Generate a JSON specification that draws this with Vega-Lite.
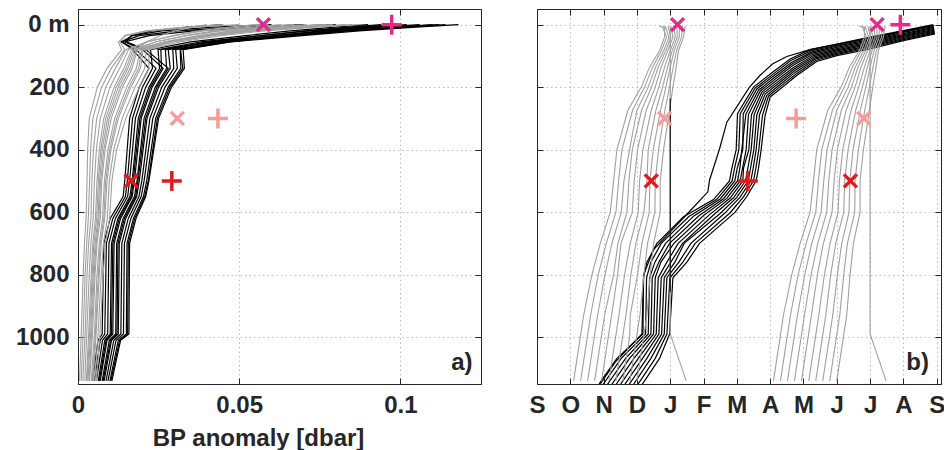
{
"$schema":"https://vega.github.io/schema/vega-lite/v6.json",
"background":"white",
"padding":{"left":15,"top":7,"right":0,"bottom":0},
"config":{
 "view":{"stroke":"#262626","strokeWidth":1},
 "axis":{"labelFont":"Liberation Sans","labelFontWeight":"bold","labelFontSize":24,"labelColor":"#262626",
  "titleFont":"Liberation Sans","titleFontWeight":"bold","titleFontSize":24,"titleColor":"#262626",
  "tickSize":-6,"tickColor":"#262626","tickWidth":1,"domainColor":"#262626","domainWidth":1,
  "gridColor":"#bdbdbd","gridDash":[1.5,3],"gridWidth":1,
  "labelPadding":15,"labelOverlap":false,"labelFlush":false,"labelBound":false},
 "text":{"font":"Liberation Sans","fontWeight":"bold","fontSize":24,"color":"#262626"}
},
"datasets":{
"pa_k":[
{"i":"k1","d":0,"v":0.118},{"i":"k1","d":8,"v":0.1048},{"i":"k1","d":20,"v":0.0872},{"i":"k1","d":35,"v":0.0695},{"i":"k1","d":55,"v":0.0475},{"i":"k1","d":80,"v":0.0317},{"i":"k1","d":140,"v":0.0319},{"i":"k1","d":200,"v":0.028},{"i":"k1","d":300,"v":0.0241},{"i":"k1","d":500,"v":0.0213},{"i":"k1","d":550,"v":0.0203},{"i":"k1","d":620,"v":0.0172},{"i":"k1","d":700,"v":0.0152},{"i":"k1","d":990,"v":0.015},{"i":"k1","d":1010,"v":0.0125},{"i":"k1","d":1140,"v":0.0099},
{"i":"k2","d":0,"v":0.114},{"i":"k2","d":8,"v":0.1011},{"i":"k2","d":20,"v":0.0838},{"i":"k2","d":35,"v":0.0665},{"i":"k2","d":55,"v":0.045},{"i":"k2","d":80,"v":0.0294},{"i":"k2","d":140,"v":0.0297},{"i":"k2","d":200,"v":0.026},{"i":"k2","d":300,"v":0.0223},{"i":"k2","d":500,"v":0.0198},{"i":"k2","d":550,"v":0.0189},{"i":"k2","d":620,"v":0.0156},{"i":"k2","d":700,"v":0.0136},{"i":"k2","d":990,"v":0.0133},{"i":"k2","d":1010,"v":0.0111},{"i":"k2","d":1140,"v":0.0087},
{"i":"k3","d":0,"v":0.11},{"i":"k3","d":8,"v":0.0982},{"i":"k3","d":20,"v":0.0824},{"i":"k3","d":35,"v":0.0666},{"i":"k3","d":55,"v":0.0468},{"i":"k3","d":80,"v":0.0326},{"i":"k3","d":140,"v":0.033},{"i":"k3","d":200,"v":0.029},{"i":"k3","d":300,"v":0.025},{"i":"k3","d":500,"v":0.022},{"i":"k3","d":550,"v":0.021},{"i":"k3","d":620,"v":0.018},{"i":"k3","d":700,"v":0.016},{"i":"k3","d":990,"v":0.0158},{"i":"k3","d":1010,"v":0.0132},{"i":"k3","d":1140,"v":0.0105},
{"i":"k4","d":0,"v":0.106},{"i":"k4","d":8,"v":0.0939},{"i":"k4","d":20,"v":0.0778},{"i":"k4","d":35,"v":0.0617},{"i":"k4","d":55,"v":0.0416},{"i":"k4","d":80,"v":0.0271},{"i":"k4","d":140,"v":0.0275},{"i":"k4","d":200,"v":0.024},{"i":"k4","d":300,"v":0.0205},{"i":"k4","d":500,"v":0.0183},{"i":"k4","d":550,"v":0.0175},{"i":"k4","d":620,"v":0.014},{"i":"k4","d":700,"v":0.012},{"i":"k4","d":990,"v":0.0117},{"i":"k4","d":1010,"v":0.0097},{"i":"k4","d":1140,"v":0.0075},
{"i":"k5","d":0,"v":0.102},{"i":"k5","d":8,"v":0.091},{"i":"k5","d":20,"v":0.0764},{"i":"k5","d":35,"v":0.0617},{"i":"k5","d":55,"v":0.0434},{"i":"k5","d":80,"v":0.0303},{"i":"k5","d":140,"v":0.0308},{"i":"k5","d":200,"v":0.027},{"i":"k5","d":300,"v":0.0232},{"i":"k5","d":500,"v":0.0205},{"i":"k5","d":550,"v":0.0196},{"i":"k5","d":620,"v":0.0164},{"i":"k5","d":700,"v":0.0144},{"i":"k5","d":990,"v":0.0141},{"i":"k5","d":1010,"v":0.0118},{"i":"k5","d":1140,"v":0.0093},
{"i":"k6","d":0,"v":0.098},{"i":"k6","d":8,"v":0.0868},{"i":"k6","d":20,"v":0.0719},{"i":"k6","d":35,"v":0.0569},{"i":"k6","d":55,"v":0.0382},{"i":"k6","d":80,"v":0.0248},{"i":"k6","d":140,"v":0.0253},{"i":"k6","d":200,"v":0.022},{"i":"k6","d":300,"v":0.0187},{"i":"k6","d":500,"v":0.0168},{"i":"k6","d":550,"v":0.0161},{"i":"k6","d":620,"v":0.0124},{"i":"k6","d":700,"v":0.0104},{"i":"k6","d":990,"v":0.01},{"i":"k6","d":1010,"v":0.0083},{"i":"k6","d":1140,"v":0.0063},
{"i":"k7","d":0,"v":0.094},{"i":"k7","d":8,"v":0.0839},{"i":"k7","d":20,"v":0.0704},{"i":"k7","d":35,"v":0.0569},{"i":"k7","d":55,"v":0.0401},{"i":"k7","d":80,"v":0.028},{"i":"k7","d":140,"v":0.0286},{"i":"k7","d":200,"v":0.025},{"i":"k7","d":300,"v":0.0214},{"i":"k7","d":500,"v":0.019},{"i":"k7","d":550,"v":0.0182},{"i":"k7","d":620,"v":0.0148},{"i":"k7","d":700,"v":0.0128},{"i":"k7","d":990,"v":0.0125},{"i":"k7","d":1010,"v":0.0104},{"i":"k7","d":1140,"v":0.0081},
{"i":"k8","d":0,"v":0.09},{"i":"k8","d":8,"v":0.0797},{"i":"k8","d":20,"v":0.0659},{"i":"k8","d":35,"v":0.0521},{"i":"k8","d":55,"v":0.0349},{"i":"k8","d":80,"v":0.0225},{"i":"k8","d":140,"v":0.0231},{"i":"k8","d":200,"v":0.02},{"i":"k8","d":300,"v":0.0169},{"i":"k8","d":500,"v":0.0153},{"i":"k8","d":550,"v":0.0147},{"i":"k8","d":620,"v":0.0108},{"i":"k8","d":700,"v":0.0088},{"i":"k8","d":990,"v":0.0083},{"i":"k8","d":1010,"v":0.0069},{"i":"k8","d":1140,"v":0.0051},
{"i":"k9","d":0,"v":0.08},{"i":"k9","d":8,"v":0.058},{"i":"k9","d":20,"v":0.036},{"i":"k9","d":35,"v":0.022},{"i":"k9","d":55,"v":0.0145},{"i":"k9","d":80,"v":0.02},{"i":"k9","d":140,"v":0.0264},{"i":"k9","d":200,"v":0.023},{"i":"k9","d":300,"v":0.0196},{"i":"k9","d":500,"v":0.0175},{"i":"k9","d":550,"v":0.0168},{"i":"k9","d":620,"v":0.0132},{"i":"k9","d":700,"v":0.0112},{"i":"k9","d":990,"v":0.0108},{"i":"k9","d":1010,"v":0.009},{"i":"k9","d":1140,"v":0.0069},
{"i":"k10","d":0,"v":0.07},{"i":"k10","d":8,"v":0.05},{"i":"k10","d":20,"v":0.031},{"i":"k10","d":35,"v":0.019},{"i":"k10","d":55,"v":0.0135},{"i":"k10","d":80,"v":0.018},{"i":"k10","d":140,"v":0.0242},{"i":"k10","d":200,"v":0.021},{"i":"k10","d":300,"v":0.0178},{"i":"k10","d":500,"v":0.016},{"i":"k10","d":550,"v":0.0154},{"i":"k10","d":620,"v":0.0116},{"i":"k10","d":700,"v":0.0096},{"i":"k10","d":990,"v":0.0092},{"i":"k10","d":1010,"v":0.0076},{"i":"k10","d":1140,"v":0.0057},
{"i":"k11","d":0,"v":0.06},{"i":"k11","d":8,"v":0.042},{"i":"k11","d":20,"v":0.026},{"i":"k11","d":35,"v":0.017},{"i":"k11","d":55,"v":0.0135},{"i":"k11","d":80,"v":0.017},{"i":"k11","d":140,"v":0.022},{"i":"k11","d":200,"v":0.019},{"i":"k11","d":300,"v":0.016},{"i":"k11","d":500,"v":0.0145},{"i":"k11","d":550,"v":0.014},{"i":"k11","d":620,"v":0.01},{"i":"k11","d":700,"v":0.008},{"i":"k11","d":990,"v":0.0075},{"i":"k11","d":1010,"v":0.0062},{"i":"k11","d":1140,"v":0.0045},
{"i":"k12","d":0,"v":0.045},{"i":"k12","d":8,"v":0.034},{"i":"k12","d":20,"v":0.023},{"i":"k12","d":35,"v":0.0165},{"i":"k12","d":55,"v":0.015},{"i":"k12","d":80,"v":0.021},{"i":"k12","d":140,"v":0.028},{"i":"k12","d":200,"v":0.0245},{"i":"k12","d":300,"v":0.021},{"i":"k12","d":500,"v":0.0186},{"i":"k12","d":550,"v":0.0179},{"i":"k12","d":620,"v":0.0144},{"i":"k12","d":700,"v":0.0124},{"i":"k12","d":990,"v":0.0121},{"i":"k12","d":1010,"v":0.0101},{"i":"k12","d":1140,"v":0.0078},
{"i":"k13","d":0,"v":0.112},{"i":"k13","d":8,"v":0.0988},{"i":"k13","d":20,"v":0.0812},{"i":"k13","d":35,"v":0.0635},{"i":"k13","d":55,"v":0.0415},{"i":"k13","d":80,"v":0.0257},{"i":"k13","d":140,"v":0.0259},{"i":"k13","d":200,"v":0.0225},{"i":"k13","d":300,"v":0.0192},{"i":"k13","d":500,"v":0.0171},{"i":"k13","d":550,"v":0.0165},{"i":"k13","d":620,"v":0.0128},{"i":"k13","d":700,"v":0.0108},{"i":"k13","d":990,"v":0.0104},{"i":"k13","d":1010,"v":0.0087},{"i":"k13","d":1140,"v":0.0066},
{"i":"k14","d":0,"v":0.1},{"i":"k14","d":8,"v":0.0896},{"i":"k14","d":20,"v":0.0757},{"i":"k14","d":35,"v":0.0617},{"i":"k14","d":55,"v":0.0444},{"i":"k14","d":80,"v":0.0318},{"i":"k14","d":140,"v":0.0325},{"i":"k14","d":200,"v":0.0285},{"i":"k14","d":300,"v":0.0246},{"i":"k14","d":500,"v":0.0218},{"i":"k14","d":550,"v":0.0207},{"i":"k14","d":620,"v":0.0176},{"i":"k14","d":700,"v":0.0156},{"i":"k14","d":990,"v":0.0154},{"i":"k14","d":1010,"v":0.0129},{"i":"k14","d":1140,"v":0.0102}
],
"pa_g":[
{"i":"g1","d":0,"v":0.087},{"i":"g1","d":8,"v":0.074},{"i":"g1","d":20,"v":0.0578},{"i":"g1","d":35,"v":0.0448},{"i":"g1","d":55,"v":0.0318},{"i":"g1","d":80,"v":0.022},{"i":"g1","d":140,"v":0.022},{"i":"g1","d":200,"v":0.019},{"i":"g1","d":300,"v":0.0148},{"i":"g1","d":400,"v":0.012},{"i":"g1","d":500,"v":0.0105},{"i":"g1","d":620,"v":0.0098},{"i":"g1","d":700,"v":0.0085},{"i":"g1","d":800,"v":0.0078},{"i":"g1","d":990,"v":0.0068},{"i":"g1","d":1140,"v":0.0057},
{"i":"g2","d":0,"v":0.083},{"i":"g2","d":8,"v":0.0704},{"i":"g2","d":20,"v":0.0547},{"i":"g2","d":35,"v":0.0422},{"i":"g2","d":55,"v":0.0296},{"i":"g2","d":80,"v":0.0202},{"i":"g2","d":140,"v":0.0194},{"i":"g2","d":200,"v":0.0164},{"i":"g2","d":300,"v":0.0125},{"i":"g2","d":400,"v":0.0102},{"i":"g2","d":500,"v":0.009},{"i":"g2","d":620,"v":0.0083},{"i":"g2","d":700,"v":0.0072},{"i":"g2","d":800,"v":0.0066},{"i":"g2","d":990,"v":0.0056},{"i":"g2","d":1140,"v":0.0047},
{"i":"g3","d":0,"v":0.079},{"i":"g3","d":8,"v":0.0674},{"i":"g3","d":20,"v":0.0529},{"i":"g3","d":35,"v":0.0414},{"i":"g3","d":55,"v":0.0298},{"i":"g3","d":80,"v":0.0211},{"i":"g3","d":140,"v":0.0207},{"i":"g3","d":200,"v":0.0177},{"i":"g3","d":300,"v":0.0137},{"i":"g3","d":400,"v":0.0111},{"i":"g3","d":500,"v":0.0097},{"i":"g3","d":620,"v":0.0091},{"i":"g3","d":700,"v":0.0079},{"i":"g3","d":800,"v":0.0072},{"i":"g3","d":990,"v":0.0062},{"i":"g3","d":1140,"v":0.0052},
{"i":"g4","d":0,"v":0.075},{"i":"g4","d":8,"v":0.0637},{"i":"g4","d":20,"v":0.0495},{"i":"g4","d":35,"v":0.0382},{"i":"g4","d":55,"v":0.0269},{"i":"g4","d":80,"v":0.0184},{"i":"g4","d":140,"v":0.0168},{"i":"g4","d":200,"v":0.0138},{"i":"g4","d":300,"v":0.0103},{"i":"g4","d":400,"v":0.0084},{"i":"g4","d":500,"v":0.0074},{"i":"g4","d":620,"v":0.0069},{"i":"g4","d":700,"v":0.0059},{"i":"g4","d":800,"v":0.0053},{"i":"g4","d":990,"v":0.0045},{"i":"g4","d":1140,"v":0.0036},
{"i":"g5","d":0,"v":0.071},{"i":"g5","d":8,"v":0.0607},{"i":"g5","d":20,"v":0.0477},{"i":"g5","d":35,"v":0.0374},{"i":"g5","d":55,"v":0.0271},{"i":"g5","d":80,"v":0.0193},{"i":"g5","d":140,"v":0.0181},{"i":"g5","d":200,"v":0.0151},{"i":"g5","d":300,"v":0.0114},{"i":"g5","d":400,"v":0.0093},{"i":"g5","d":500,"v":0.0082},{"i":"g5","d":620,"v":0.0076},{"i":"g5","d":700,"v":0.0066},{"i":"g5","d":800,"v":0.0059},{"i":"g5","d":990,"v":0.0051},{"i":"g5","d":1140,"v":0.0041},
{"i":"g6","d":0,"v":0.067},{"i":"g6","d":8,"v":0.0569},{"i":"g6","d":20,"v":0.0443},{"i":"g6","d":35,"v":0.0342},{"i":"g6","d":55,"v":0.0242},{"i":"g6","d":80,"v":0.0166},{"i":"g6","d":140,"v":0.0142},{"i":"g6","d":200,"v":0.0112},{"i":"g6","d":300,"v":0.008},{"i":"g6","d":400,"v":0.0066},{"i":"g6","d":500,"v":0.0059},{"i":"g6","d":620,"v":0.0054},{"i":"g6","d":700,"v":0.0046},{"i":"g6","d":800,"v":0.0041},{"i":"g6","d":990,"v":0.0033},{"i":"g6","d":1140,"v":0.0026},
{"i":"g7","d":0,"v":0.063},{"i":"g7","d":8,"v":0.0539},{"i":"g7","d":20,"v":0.0425},{"i":"g7","d":35,"v":0.0334},{"i":"g7","d":55,"v":0.0243},{"i":"g7","d":80,"v":0.0175},{"i":"g7","d":140,"v":0.0155},{"i":"g7","d":200,"v":0.0125},{"i":"g7","d":300,"v":0.0092},{"i":"g7","d":400,"v":0.0075},{"i":"g7","d":500,"v":0.0067},{"i":"g7","d":620,"v":0.0062},{"i":"g7","d":700,"v":0.0053},{"i":"g7","d":800,"v":0.0047},{"i":"g7","d":990,"v":0.0039},{"i":"g7","d":1140,"v":0.0031},
{"i":"g8","d":0,"v":0.059},{"i":"g8","d":8,"v":0.0502},{"i":"g8","d":20,"v":0.0391},{"i":"g8","d":35,"v":0.0303},{"i":"g8","d":55,"v":0.0214},{"i":"g8","d":80,"v":0.0148},{"i":"g8","d":140,"v":0.0116},{"i":"g8","d":200,"v":0.0086},{"i":"g8","d":300,"v":0.0058},{"i":"g8","d":400,"v":0.0048},{"i":"g8","d":500,"v":0.0043},{"i":"g8","d":620,"v":0.004},{"i":"g8","d":700,"v":0.0033},{"i":"g8","d":800,"v":0.0028},{"i":"g8","d":990,"v":0.0022},{"i":"g8","d":1140,"v":0.0015},
{"i":"g9","d":0,"v":0.055},{"i":"g9","d":8,"v":0.0471},{"i":"g9","d":20,"v":0.0373},{"i":"g9","d":35,"v":0.0295},{"i":"g9","d":55,"v":0.0216},{"i":"g9","d":80,"v":0.0157},{"i":"g9","d":140,"v":0.0129},{"i":"g9","d":200,"v":0.0099},{"i":"g9","d":300,"v":0.0069},{"i":"g9","d":400,"v":0.0057},{"i":"g9","d":500,"v":0.0051},{"i":"g9","d":620,"v":0.0047},{"i":"g9","d":700,"v":0.004},{"i":"g9","d":800,"v":0.0035},{"i":"g9","d":990,"v":0.0027},{"i":"g9","d":1140,"v":0.0021},
{"i":"g10","d":0,"v":0.05},{"i":"g10","d":8,"v":0.036},{"i":"g10","d":20,"v":0.022},{"i":"g10","d":35,"v":0.015},{"i":"g10","d":55,"v":0.0125},{"i":"g10","d":80,"v":0.0135},{"i":"g10","d":140,"v":0.009},{"i":"g10","d":200,"v":0.006},{"i":"g10","d":300,"v":0.0035},{"i":"g10","d":400,"v":0.003},{"i":"g10","d":500,"v":0.0028},{"i":"g10","d":620,"v":0.0025},{"i":"g10","d":700,"v":0.002},{"i":"g10","d":800,"v":0.0016},{"i":"g10","d":990,"v":0.001},{"i":"g10","d":1140,"v":0.0005},
{"i":"g11","d":0,"v":0.045},{"i":"g11","d":8,"v":0.033},{"i":"g11","d":20,"v":0.021},{"i":"g11","d":35,"v":0.0145},{"i":"g11","d":55,"v":0.013},{"i":"g11","d":80,"v":0.0145},{"i":"g11","d":140,"v":0.0103},{"i":"g11","d":200,"v":0.0073},{"i":"g11","d":300,"v":0.0046},{"i":"g11","d":400,"v":0.0039},{"i":"g11","d":500,"v":0.0036},{"i":"g11","d":620,"v":0.0032},{"i":"g11","d":700,"v":0.0027},{"i":"g11","d":800,"v":0.0022},{"i":"g11","d":990,"v":0.0016},{"i":"g11","d":1140,"v":0.001},
{"i":"g12","d":0,"v":0.04},{"i":"g12","d":8,"v":0.0356},{"i":"g12","d":20,"v":0.0301},{"i":"g12","d":35,"v":0.0257},{"i":"g12","d":55,"v":0.0213},{"i":"g12","d":80,"v":0.018},{"i":"g12","d":140,"v":0.0162},{"i":"g12","d":200,"v":0.0132},{"i":"g12","d":300,"v":0.0097},{"i":"g12","d":400,"v":0.008},{"i":"g12","d":500,"v":0.007},{"i":"g12","d":620,"v":0.0065},{"i":"g12","d":700,"v":0.0056},{"i":"g12","d":800,"v":0.005},{"i":"g12","d":990,"v":0.0042},{"i":"g12","d":1140,"v":0.0034},
{"i":"g13","d":0,"v":0.085},{"i":"g13","d":8,"v":0.0714},{"i":"g13","d":20,"v":0.0544},{"i":"g13","d":35,"v":0.0408},{"i":"g13","d":55,"v":0.0272},{"i":"g13","d":80,"v":0.0171},{"i":"g13","d":140,"v":0.0149},{"i":"g13","d":200,"v":0.0119},{"i":"g13","d":300,"v":0.0086},{"i":"g13","d":400,"v":0.0071},{"i":"g13","d":500,"v":0.0063},{"i":"g13","d":620,"v":0.0058},{"i":"g13","d":700,"v":0.0049},{"i":"g13","d":800,"v":0.0044},{"i":"g13","d":990,"v":0.0036},{"i":"g13","d":1140,"v":0.0028},
{"i":"g14","d":0,"v":0.077},{"i":"g14","d":8,"v":0.0656},{"i":"g14","d":20,"v":0.0512},{"i":"g14","d":35,"v":0.0398},{"i":"g14","d":55,"v":0.0284},{"i":"g14","d":80,"v":0.0198},{"i":"g14","d":140,"v":0.0188},{"i":"g14","d":200,"v":0.0158},{"i":"g14","d":300,"v":0.012},{"i":"g14","d":400,"v":0.0098},{"i":"g14","d":500,"v":0.0086},{"i":"g14","d":620,"v":0.008},{"i":"g14","d":700,"v":0.0069},{"i":"g14","d":800,"v":0.0063},{"i":"g14","d":990,"v":0.0054},{"i":"g14","d":1140,"v":0.0044}
],
"ma":[
{"v":0.0575,"d":0,"s":"x","c":"top"},{"v":0.0973,"d":0,"s":"+","c":"top"},
{"v":0.0308,"d":300,"s":"x","c":"mid"},{"v":0.0434,"d":300,"s":"+","c":"mid"},
{"v":0.0165,"d":500,"s":"x","c":"deep"},{"v":0.0291,"d":500,"s":"+","c":"deep"}
],
"pb_k":[
{"i":"b0","d":0,"m":11.9},{"i":"b0","d":19,"m":11.0},{"i":"b0","d":40,"m":10.0},{"i":"b0","d":62,"m":9.0},{"i":"b0","d":80,"m":8.2},{"i":"b0","d":110,"m":7.6},{"i":"b0","d":150,"m":7.1},{"i":"b0","d":200,"m":6.5},{"i":"b0","d":285,"m":6.02},{"i":"b0","d":400,"m":5.98},{"i":"b0","d":460,"m":5.85},{"i":"b0","d":500,"m":5.78},{"i":"b0","d":560,"m":5.3},{"i":"b0","d":615,"m":4.4},{"i":"b0","d":700,"m":3.6},{"i":"b0","d":760,"m":3.3},{"i":"b0","d":810,"m":3.2},{"i":"b0","d":990,"m":3.18},{"i":"b0","d":1068,"m":2.4},{"i":"b0","d":1132,"m":1.98},{"i":"b0","d":1160,"m":1.8},
{"i":"b1","d":3,"m":11.91},{"i":"b1","d":22,"m":11.0},{"i":"b1","d":44,"m":10.0},{"i":"b1","d":66,"m":9.0},{"i":"b1","d":84,"m":8.22},{"i":"b1","d":115,"m":7.62},{"i":"b1","d":156,"m":7.12},{"i":"b1","d":203,"m":6.55},{"i":"b1","d":286,"m":6.1},{"i":"b1","d":400,"m":6.06},{"i":"b1","d":460,"m":5.93},{"i":"b1","d":500,"m":5.86},{"i":"b1","d":559,"m":5.4},{"i":"b1","d":614,"m":4.56},{"i":"b1","d":700,"m":3.73},{"i":"b1","d":760,"m":3.42},{"i":"b1","d":810,"m":3.29},{"i":"b1","d":990,"m":3.26},{"i":"b1","d":1068,"m":2.53},{"i":"b1","d":1132,"m":2.11},{"i":"b1","d":1160,"m":1.93},
{"i":"b2","d":6,"m":11.91},{"i":"b2","d":25,"m":11.0},{"i":"b2","d":48,"m":10.0},{"i":"b2","d":69,"m":9.0},{"i":"b2","d":88,"m":8.24},{"i":"b2","d":121,"m":7.64},{"i":"b2","d":161,"m":7.14},{"i":"b2","d":206,"m":6.6},{"i":"b2","d":286,"m":6.19},{"i":"b2","d":400,"m":6.18},{"i":"b2","d":460,"m":6.01},{"i":"b2","d":500,"m":5.94},{"i":"b2","d":558,"m":5.5},{"i":"b2","d":612,"m":4.71},{"i":"b2","d":700,"m":3.86},{"i":"b2","d":760,"m":3.54},{"i":"b2","d":810,"m":3.38},{"i":"b2","d":990,"m":3.34},{"i":"b2","d":1068,"m":2.66},{"i":"b2","d":1132,"m":2.24},{"i":"b2","d":1160,"m":2.06},
{"i":"b3","d":9,"m":11.92},{"i":"b3","d":29,"m":11.0},{"i":"b3","d":51,"m":10.0},{"i":"b3","d":73,"m":9.0},{"i":"b3","d":91,"m":8.26},{"i":"b3","d":126,"m":7.66},{"i":"b3","d":167,"m":7.16},{"i":"b3","d":210,"m":6.65},{"i":"b3","d":287,"m":6.27},{"i":"b3","d":400,"m":6.15},{"i":"b3","d":460,"m":6.09},{"i":"b3","d":500,"m":6.02},{"i":"b3","d":557,"m":5.6},{"i":"b3","d":611,"m":4.87},{"i":"b3","d":700,"m":3.98},{"i":"b3","d":760,"m":3.66},{"i":"b3","d":810,"m":3.46},{"i":"b3","d":990,"m":3.42},{"i":"b3","d":1068,"m":2.78},{"i":"b3","d":1132,"m":2.37},{"i":"b3","d":1160,"m":2.19},
{"i":"b4","d":12,"m":11.92},{"i":"b4","d":32,"m":11.0},{"i":"b4","d":55,"m":10.0},{"i":"b4","d":77,"m":9.0},{"i":"b4","d":95,"m":8.28},{"i":"b4","d":131,"m":7.68},{"i":"b4","d":172,"m":7.18},{"i":"b4","d":213,"m":6.7},{"i":"b4","d":287,"m":6.35},{"i":"b4","d":400,"m":6.28},{"i":"b4","d":460,"m":6.17},{"i":"b4","d":500,"m":6.1},{"i":"b4","d":556,"m":5.7},{"i":"b4","d":609,"m":5.02},{"i":"b4","d":700,"m":4.11},{"i":"b4","d":760,"m":3.72},{"i":"b4","d":810,"m":3.55},{"i":"b4","d":990,"m":3.5},{"i":"b4","d":1068,"m":2.91},{"i":"b4","d":1132,"m":2.5},{"i":"b4","d":1160,"m":2.32},
{"i":"b5","d":15,"m":11.93},{"i":"b5","d":35,"m":11.0},{"i":"b5","d":59,"m":10.0},{"i":"b5","d":81,"m":9.0},{"i":"b5","d":99,"m":8.3},{"i":"b5","d":137,"m":7.7},{"i":"b5","d":178,"m":7.2},{"i":"b5","d":216,"m":6.75},{"i":"b5","d":288,"m":6.44},{"i":"b5","d":400,"m":6.36},{"i":"b5","d":460,"m":6.2},{"i":"b5","d":500,"m":6.18},{"i":"b5","d":555,"m":5.8},{"i":"b5","d":608,"m":5.18},{"i":"b5","d":700,"m":4.24},{"i":"b5","d":760,"m":3.9},{"i":"b5","d":810,"m":3.64},{"i":"b5","d":990,"m":3.58},{"i":"b5","d":1068,"m":3.04},{"i":"b5","d":1132,"m":2.63},{"i":"b5","d":1160,"m":2.45},
{"i":"b6","d":18,"m":11.93},{"i":"b6","d":38,"m":11.0},{"i":"b6","d":63,"m":10.0},{"i":"b6","d":84,"m":9.0},{"i":"b6","d":103,"m":8.32},{"i":"b6","d":142,"m":7.72},{"i":"b6","d":184,"m":7.22},{"i":"b6","d":219,"m":6.8},{"i":"b6","d":288,"m":6.52},{"i":"b6","d":400,"m":6.43},{"i":"b6","d":460,"m":6.33},{"i":"b6","d":500,"m":6.26},{"i":"b6","d":554,"m":5.9},{"i":"b6","d":606,"m":5.33},{"i":"b6","d":700,"m":4.37},{"i":"b6","d":760,"m":4.02},{"i":"b6","d":810,"m":3.73},{"i":"b6","d":990,"m":3.66},{"i":"b6","d":1068,"m":3.17},{"i":"b6","d":1132,"m":2.76},{"i":"b6","d":1160,"m":2.58},
{"i":"b7","d":21,"m":11.94},{"i":"b7","d":41,"m":11.0},{"i":"b7","d":67,"m":10.0},{"i":"b7","d":88,"m":9.0},{"i":"b7","d":107,"m":8.34},{"i":"b7","d":147,"m":7.74},{"i":"b7","d":189,"m":7.24},{"i":"b7","d":222,"m":6.85},{"i":"b7","d":289,"m":6.6},{"i":"b7","d":400,"m":6.51},{"i":"b7","d":460,"m":6.41},{"i":"b7","d":500,"m":6.34},{"i":"b7","d":553,"m":6.0},{"i":"b7","d":605,"m":5.49},{"i":"b7","d":700,"m":4.42},{"i":"b7","d":760,"m":4.14},{"i":"b7","d":810,"m":3.82},{"i":"b7","d":990,"m":3.74},{"i":"b7","d":1068,"m":3.3},{"i":"b7","d":1132,"m":2.89},{"i":"b7","d":1160,"m":2.71},
{"i":"b8","d":24,"m":11.94},{"i":"b8","d":45,"m":11.0},{"i":"b8","d":70,"m":10.0},{"i":"b8","d":92,"m":9.0},{"i":"b8","d":110,"m":8.36},{"i":"b8","d":152,"m":7.76},{"i":"b8","d":195,"m":7.26},{"i":"b8","d":226,"m":6.9},{"i":"b8","d":289,"m":6.68},{"i":"b8","d":400,"m":6.58},{"i":"b8","d":460,"m":6.49},{"i":"b8","d":500,"m":6.42},{"i":"b8","d":552,"m":6.1},{"i":"b8","d":603,"m":5.64},{"i":"b8","d":700,"m":4.62},{"i":"b8","d":760,"m":4.26},{"i":"b8","d":810,"m":3.9},{"i":"b8","d":990,"m":3.82},{"i":"b8","d":1068,"m":3.42},{"i":"b8","d":1132,"m":3.02},{"i":"b8","d":1160,"m":2.84},
{"i":"b9","d":27,"m":11.95},{"i":"b9","d":48,"m":11.0},{"i":"b9","d":74,"m":10.0},{"i":"b9","d":95,"m":9.0},{"i":"b9","d":114,"m":8.38},{"i":"b9","d":158,"m":7.78},{"i":"b9","d":200,"m":7.28},{"i":"b9","d":229,"m":6.95},{"i":"b9","d":290,"m":6.77},{"i":"b9","d":400,"m":6.66},{"i":"b9","d":460,"m":6.57},{"i":"b9","d":500,"m":6.5},{"i":"b9","d":551,"m":6.2},{"i":"b9","d":602,"m":5.8},{"i":"b9","d":700,"m":4.75},{"i":"b9","d":760,"m":4.38},{"i":"b9","d":810,"m":3.99},{"i":"b9","d":990,"m":3.9},{"i":"b9","d":1068,"m":3.55},{"i":"b9","d":1132,"m":3.15},{"i":"b9","d":1160,"m":2.97},
{"i":"b10","d":30,"m":11.95},{"i":"b10","d":51,"m":11.0},{"i":"b10","d":78,"m":10.0},{"i":"b10","d":99,"m":9.0},{"i":"b10","d":118,"m":8.4},{"i":"b10","d":163,"m":7.8},{"i":"b10","d":206,"m":7.3},{"i":"b10","d":232,"m":7.0},{"i":"b10","d":290,"m":6.85},{"i":"b10","d":400,"m":6.73},{"i":"b10","d":460,"m":6.65},{"i":"b10","d":500,"m":6.58},{"i":"b10","d":550,"m":6.3},{"i":"b10","d":600,"m":5.95},{"i":"b10","d":700,"m":4.88},{"i":"b10","d":760,"m":4.5},{"i":"b10","d":810,"m":4.08},{"i":"b10","d":990,"m":3.98},{"i":"b10","d":1068,"m":3.68},{"i":"b10","d":1132,"m":3.28},{"i":"b10","d":1160,"m":3.1},
{"i":"bo","d":3,"m":11.9},{"i":"bo","d":21,"m":11.0},{"i":"bo","d":42,"m":10.0},{"i":"bo","d":63,"m":9.0},{"i":"bo","d":80,"m":8.2},{"i":"bo","d":102,"m":7.5},{"i":"bo","d":125,"m":7.08},{"i":"bo","d":162,"m":6.7},{"i":"bo","d":200,"m":6.38},{"i":"bo","d":312,"m":5.7},{"i":"bo","d":398,"m":5.48},{"i":"bo","d":498,"m":5.18},{"i":"bo","d":535,"m":5.13},{"i":"bo","d":598,"m":4.58},{"i":"bo","d":663,"m":4.0},{"i":"bo","d":720,"m":3.5},{"i":"bo","d":800,"m":3.2},{"i":"bo","d":990,"m":3.15},{"i":"bo","d":1080,"m":2.35},{"i":"bo","d":1150,"m":1.9}
],
"pb_g":[
{"i":"a1","d":5,"m":3.68},{"i":"a1","d":8,"m":3.83},{"i":"a1","d":40,"m":3.83},{"i":"a1","d":83,"m":3.68},{"i":"a1","d":136,"m":3.38},{"i":"a1","d":200,"m":3.13},{"i":"a1","d":274,"m":2.73},{"i":"a1","d":400,"m":2.4},{"i":"a1","d":500,"m":2.3},{"i":"a1","d":600,"m":2.2},{"i":"a1","d":700,"m":1.9},{"i":"a1","d":800,"m":1.65},{"i":"a1","d":930,"m":1.4},{"i":"a1","d":1000,"m":1.3},{"i":"a1","d":1140,"m":1.1},
{"i":"b1","d":5,"m":3.76},{"i":"b1","d":40,"m":3.89},{"i":"b1","d":83,"m":3.74},{"i":"b1","d":136,"m":3.47},{"i":"b1","d":200,"m":3.23},{"i":"b1","d":274,"m":2.87},{"i":"b1","d":400,"m":2.55},{"i":"b1","d":500,"m":2.45},{"i":"b1","d":600,"m":2.37},{"i":"b1","d":700,"m":2.08},{"i":"b1","d":800,"m":1.84},{"i":"b1","d":930,"m":1.61},{"i":"b1","d":1000,"m":1.51},{"i":"b1","d":1140,"m":1.31},
{"i":"c1","d":5,"m":3.85},{"i":"c1","d":40,"m":3.96},{"i":"c1","d":83,"m":3.81},{"i":"c1","d":136,"m":3.56},{"i":"c1","d":200,"m":3.34},{"i":"c1","d":274,"m":3.0},{"i":"c1","d":400,"m":2.78},{"i":"c1","d":500,"m":2.61},{"i":"c1","d":600,"m":2.53},{"i":"c1","d":700,"m":2.25},{"i":"c1","d":800,"m":2.04},{"i":"c1","d":930,"m":1.82},{"i":"c1","d":1000,"m":1.72},{"i":"c1","d":1140,"m":1.52},
{"i":"d1","d":5,"m":3.93},{"i":"d1","d":40,"m":4.02},{"i":"d1","d":83,"m":3.87},{"i":"d1","d":136,"m":3.64},{"i":"d1","d":200,"m":3.44},{"i":"d1","d":274,"m":3.14},{"i":"d1","d":400,"m":2.86},{"i":"d1","d":500,"m":2.76},{"i":"d1","d":600,"m":2.7},{"i":"d1","d":700,"m":2.43},{"i":"d1","d":800,"m":2.3},{"i":"d1","d":930,"m":2.03},{"i":"d1","d":1000,"m":1.93},{"i":"d1","d":1140,"m":1.73},
{"i":"e1","d":5,"m":4.02},{"i":"e1","d":40,"m":4.08},{"i":"e1","d":83,"m":3.93},{"i":"e1","d":136,"m":3.73},{"i":"e1","d":200,"m":3.55},{"i":"e1","d":274,"m":3.28},{"i":"e1","d":400,"m":3.02},{"i":"e1","d":500,"m":2.92},{"i":"e1","d":600,"m":2.86},{"i":"e1","d":700,"m":2.52},{"i":"e1","d":800,"m":2.42},{"i":"e1","d":930,"m":2.24},{"i":"e1","d":1000,"m":2.14},{"i":"e1","d":1140,"m":1.94},
{"i":"f1","d":5,"m":4.11},{"i":"f1","d":40,"m":4.15},{"i":"f1","d":83,"m":4.0},{"i":"f1","d":136,"m":3.83},{"i":"f1","d":200,"m":3.66},{"i":"f1","d":274,"m":3.43},{"i":"f1","d":400,"m":3.18},{"i":"f1","d":500,"m":3.08},{"i":"f1","d":600,"m":3.04},{"i":"f1","d":700,"m":2.8},{"i":"f1","d":800,"m":2.63},{"i":"f1","d":930,"m":2.46},{"i":"f1","d":1000,"m":2.36},{"i":"f1","d":1140,"m":2.16},
{"i":"g1","d":5,"m":4.2},{"i":"g1","d":40,"m":4.21},{"i":"g1","d":83,"m":4.06},{"i":"g1","d":136,"m":3.92},{"i":"g1","d":200,"m":3.77},{"i":"g1","d":274,"m":3.57},{"i":"g1","d":400,"m":3.34},{"i":"g1","d":500,"m":3.3},{"i":"g1","d":600,"m":3.21},{"i":"g1","d":700,"m":2.97},{"i":"g1","d":800,"m":2.82},{"i":"g1","d":930,"m":2.67},{"i":"g1","d":1000,"m":2.57},{"i":"g1","d":1140,"m":2.37},
{"i":"h1","d":5,"m":4.28},{"i":"h1","d":40,"m":4.27},{"i":"h1","d":83,"m":4.12},{"i":"h1","d":136,"m":4.0},{"i":"h1","d":200,"m":3.87},{"i":"h1","d":274,"m":3.71},{"i":"h1","d":400,"m":3.49},{"i":"h1","d":500,"m":3.39},{"i":"h1","d":600,"m":3.37},{"i":"h1","d":700,"m":3.15},{"i":"h1","d":800,"m":3.02},{"i":"h1","d":930,"m":2.8},{"i":"h1","d":1000,"m":2.78},{"i":"h1","d":1140,"m":2.58},
{"i":"i1","d":5,"m":4.37},{"i":"i1","d":40,"m":4.34},{"i":"i1","d":83,"m":4.19},{"i":"i1","d":136,"m":4.09},{"i":"i1","d":200,"m":3.98},{"i":"i1","d":274,"m":3.84},{"i":"i1","d":400,"m":3.65},{"i":"i1","d":500,"m":3.55},{"i":"i1","d":600,"m":3.54},{"i":"i1","d":700,"m":3.32},{"i":"i1","d":800,"m":3.21},{"i":"i1","d":930,"m":3.09},{"i":"i1","d":1000,"m":2.99},{"i":"i1","d":1140,"m":2.79},
{"i":"j1","d":5,"m":4.45},{"i":"j1","d":40,"m":4.4},{"i":"j1","d":83,"m":4.25},{"i":"j1","d":136,"m":4.18},{"i":"j1","d":200,"m":4.08},{"i":"j1","d":274,"m":3.98},{"i":"j1","d":400,"m":3.8},{"i":"j1","d":500,"m":3.7},{"i":"j1","d":600,"m":3.7},{"i":"j1","d":700,"m":3.5},{"i":"j1","d":800,"m":3.4},{"i":"j1","d":930,"m":3.3},{"i":"j1","d":1000,"m":3.2},{"i":"j1","d":1140,"m":3.0},
{"i":"v1","d":5,"m":4.0},{"i":"v1","d":990,"m":4.0},{"i":"v1","d":1140,"m":4.48},
{"i":"a2","d":5,"m":9.68},{"i":"a2","d":8,"m":9.83},{"i":"a2","d":40,"m":9.83},{"i":"a2","d":83,"m":9.68},{"i":"a2","d":136,"m":9.38},{"i":"a2","d":200,"m":9.13},{"i":"a2","d":274,"m":8.73},{"i":"a2","d":400,"m":8.4},{"i":"a2","d":500,"m":8.3},{"i":"a2","d":600,"m":8.2},{"i":"a2","d":700,"m":7.9},{"i":"a2","d":800,"m":7.65},{"i":"a2","d":930,"m":7.4},{"i":"a2","d":1000,"m":7.3},{"i":"a2","d":1140,"m":7.1},
{"i":"b2","d":5,"m":9.76},{"i":"b2","d":40,"m":9.89},{"i":"b2","d":83,"m":9.74},{"i":"b2","d":136,"m":9.47},{"i":"b2","d":200,"m":9.23},{"i":"b2","d":274,"m":8.87},{"i":"b2","d":400,"m":8.55},{"i":"b2","d":500,"m":8.45},{"i":"b2","d":600,"m":8.37},{"i":"b2","d":700,"m":8.08},{"i":"b2","d":800,"m":7.84},{"i":"b2","d":930,"m":7.61},{"i":"b2","d":1000,"m":7.51},{"i":"b2","d":1140,"m":7.31},
{"i":"c2","d":5,"m":9.85},{"i":"c2","d":40,"m":9.96},{"i":"c2","d":83,"m":9.81},{"i":"c2","d":136,"m":9.56},{"i":"c2","d":200,"m":9.34},{"i":"c2","d":274,"m":9.0},{"i":"c2","d":400,"m":8.71},{"i":"c2","d":500,"m":8.61},{"i":"c2","d":600,"m":8.53},{"i":"c2","d":700,"m":8.25},{"i":"c2","d":800,"m":8.04},{"i":"c2","d":930,"m":7.82},{"i":"c2","d":1000,"m":7.72},{"i":"c2","d":1140,"m":7.52},
{"i":"d2","d":5,"m":9.93},{"i":"d2","d":40,"m":10.02},{"i":"d2","d":83,"m":9.87},{"i":"d2","d":136,"m":9.64},{"i":"d2","d":200,"m":9.44},{"i":"d2","d":274,"m":9.14},{"i":"d2","d":400,"m":8.86},{"i":"d2","d":500,"m":8.76},{"i":"d2","d":600,"m":8.7},{"i":"d2","d":700,"m":8.43},{"i":"d2","d":800,"m":8.23},{"i":"d2","d":930,"m":8.03},{"i":"d2","d":1000,"m":7.93},{"i":"d2","d":1140,"m":7.73},
{"i":"e2","d":5,"m":10.02},{"i":"e2","d":40,"m":10.08},{"i":"e2","d":83,"m":9.93},{"i":"e2","d":136,"m":9.73},{"i":"e2","d":200,"m":9.55},{"i":"e2","d":274,"m":9.28},{"i":"e2","d":400,"m":9.02},{"i":"e2","d":500,"m":8.92},{"i":"e2","d":600,"m":8.86},{"i":"e2","d":700,"m":8.6},{"i":"e2","d":800,"m":8.42},{"i":"e2","d":930,"m":8.24},{"i":"e2","d":1000,"m":8.14},{"i":"e2","d":1140,"m":7.94},
{"i":"f2","d":5,"m":10.11},{"i":"f2","d":40,"m":10.15},{"i":"f2","d":83,"m":10.0},{"i":"f2","d":136,"m":9.83},{"i":"f2","d":200,"m":9.66},{"i":"f2","d":274,"m":9.43},{"i":"f2","d":400,"m":9.18},{"i":"f2","d":500,"m":9.08},{"i":"f2","d":600,"m":9.04},{"i":"f2","d":700,"m":8.8},{"i":"f2","d":800,"m":8.63},{"i":"f2","d":930,"m":8.46},{"i":"f2","d":1000,"m":8.36},{"i":"f2","d":1140,"m":8.16},
{"i":"g2","d":5,"m":10.2},{"i":"g2","d":40,"m":10.21},{"i":"g2","d":83,"m":10.06},{"i":"g2","d":136,"m":9.92},{"i":"g2","d":200,"m":9.77},{"i":"g2","d":274,"m":9.57},{"i":"g2","d":400,"m":9.34},{"i":"g2","d":500,"m":9.24},{"i":"g2","d":600,"m":9.21},{"i":"g2","d":700,"m":8.97},{"i":"g2","d":800,"m":8.82},{"i":"g2","d":930,"m":8.67},{"i":"g2","d":1000,"m":8.57},{"i":"g2","d":1140,"m":8.37},
{"i":"h2","d":5,"m":10.28},{"i":"h2","d":40,"m":10.27},{"i":"h2","d":83,"m":10.12},{"i":"h2","d":136,"m":10.0},{"i":"h2","d":200,"m":9.87},{"i":"h2","d":274,"m":9.71},{"i":"h2","d":400,"m":9.49},{"i":"h2","d":500,"m":9.39},{"i":"h2","d":600,"m":9.37},{"i":"h2","d":700,"m":9.15},{"i":"h2","d":800,"m":9.02},{"i":"h2","d":930,"m":8.88},{"i":"h2","d":1000,"m":8.78},{"i":"h2","d":1140,"m":8.58},
{"i":"i2","d":5,"m":10.37},{"i":"i2","d":40,"m":10.34},{"i":"i2","d":83,"m":10.19},{"i":"i2","d":136,"m":10.09},{"i":"i2","d":200,"m":9.98},{"i":"i2","d":274,"m":9.84},{"i":"i2","d":400,"m":9.65},{"i":"i2","d":500,"m":9.55},{"i":"i2","d":600,"m":9.54},{"i":"i2","d":700,"m":9.32},{"i":"i2","d":800,"m":9.21},{"i":"i2","d":930,"m":9.09},{"i":"i2","d":1000,"m":8.99},{"i":"i2","d":1140,"m":8.79},
{"i":"j2","d":5,"m":10.45},{"i":"j2","d":40,"m":10.4},{"i":"j2","d":83,"m":10.25},{"i":"j2","d":136,"m":10.18},{"i":"j2","d":200,"m":10.08},{"i":"j2","d":274,"m":9.98},{"i":"j2","d":400,"m":9.8},{"i":"j2","d":500,"m":9.7},{"i":"j2","d":600,"m":9.7},{"i":"j2","d":700,"m":9.5},{"i":"j2","d":800,"m":9.4},{"i":"j2","d":930,"m":9.3},{"i":"j2","d":1000,"m":9.2},{"i":"j2","d":1140,"m":9.0},
{"i":"v2","d":5,"m":10.0},{"i":"v2","d":990,"m":10.0},{"i":"v2","d":1140,"m":10.48}
],
"bj":[{"i":"bj","d":236,"m":4.0},{"i":"bj","d":855,"m":4.0}],
"mb":[
{"m":4.22,"d":0,"s":"x","c":"top"},{"m":10.21,"d":0,"s":"x","c":"top"},{"m":10.91,"d":0,"s":"+","c":"top"},
{"m":3.83,"d":300,"s":"x","c":"mid"},{"m":7.78,"d":300,"s":"+","c":"mid"},{"m":9.81,"d":300,"s":"x","c":"mid"},
{"m":3.43,"d":500,"s":"x","c":"deep"},{"m":6.33,"d":500,"s":"+","c":"deep"},{"m":9.41,"d":500,"s":"x","c":"deep"}
]
},
"spacing":46,
"hconcat":[
{"width":403,"height":375,
 "resolve":{"axis":{"x":"independent","y":"independent"}},
 "layer":[
  {"data":{"name":"pa_k"},"mark":{"type":"line","color":"#000000","strokeWidth":1.2,"clip":true},
   "encoding":{
    "x":{"field":"v","type":"quantitative","scale":{"domain":[0,0.125],"nice":false,"zero":false},
     "axis":{"orient":"bottom","values":[0,0.05,0.1],"format":".2~f","title":"BP anomaly [dbar]","grid":true,"titleX":180,"titleY":61,"titleBaseline":"alphabetic"}},
    "y":{"field":"d","type":"quantitative","scale":{"domain":[-50,1150],"reverse":true,"nice":false,"zero":false},
     "axis":{"orient":"left","values":[0,200,400,600,800,1000],"format":"d","labelExpr":"datum.value == 0 ? '0 m' : datum.label","title":null,"grid":true}},
    "detail":{"field":"i","type":"nominal"},
    "order":{"field":"d","type":"quantitative"}}},
  {"data":{"name":"pa_g"},"mark":{"type":"line","color":"#a0a0a0","strokeWidth":1.1,"clip":true},
   "encoding":{
    "x":{"field":"v","type":"quantitative","scale":{"domain":[0,0.125],"nice":false,"zero":false},
     "axis":{"orient":"top","values":[0,0.05,0.1],"labels":false,"title":null,"grid":false}},
    "y":{"field":"d","type":"quantitative","scale":{"domain":[-50,1150],"reverse":true,"nice":false,"zero":false},
     "axis":{"orient":"right","values":[0,200,400,600,800,1000],"labels":false,"title":null,"grid":false}},
    "detail":{"field":"i","type":"nominal"},
    "order":{"field":"d","type":"quantitative"}}},
  {"data":{"name":"ma"},"mark":{"type":"point","filled":false,"strokeWidth":3.5,"opacity":1},
   "encoding":{
    "x":{"field":"v","type":"quantitative","scale":{"domain":[0,0.125],"nice":false,"zero":false},"axis":null},
    "y":{"field":"d","type":"quantitative","scale":{"domain":[-50,1150],"reverse":true,"nice":false,"zero":false},"axis":null},
    "shape":{"field":"s","type":"nominal","scale":{"domain":["x","+"],"range":["M-1,-1L1,1M-1,1L1,-1","M-1,0L1,0M0,-1L0,1"]},"legend":null},
    "size":{"field":"s","type":"ordinal","scale":{"domain":["x","+"],"range":[169,400]},"legend":null},
    "color":{"field":"c","type":"nominal","scale":{"domain":["top","mid","deep"],"range":["#e7298a","#fb9a99","#e31a1c"]},"legend":null}}},
  {"data":{"values":[{}]},"mark":{"type":"text","text":"a)","align":"right","baseline":"alphabetic"},
   "encoding":{
    "x":{"datum":0.1224,"type":"quantitative","scale":{"domain":[0,0.125],"nice":false,"zero":false},"axis":null},
    "y":{"datum":1106,"type":"quantitative","scale":{"domain":[-50,1150],"reverse":true,"nice":false,"zero":false},"axis":null}}}
 ]},
{"width":404,"height":375,
 "resolve":{"axis":{"x":"independent","y":"independent"}},
 "layer":[
  {"data":{"name":"pb_k"},"mark":{"type":"line","color":"#000000","strokeWidth":1.2,"clip":true},
   "encoding":{
    "x":{"field":"m","type":"quantitative","scale":{"domain":[0,12.13],"nice":false,"zero":false},
     "axis":{"orient":"bottom","values":[0,1,2,3,4,5,6,7,8,9,10,11,12],"labelExpr":"['S','O','N','D','J','F','M','A','M','J','J','A','S'][datum.value]","title":null,"grid":true}},
    "y":{"field":"d","type":"quantitative","scale":{"domain":[-50,1150],"reverse":true,"nice":false,"zero":false},
     "axis":{"orient":"left","values":[0,200,400,600,800,1000],"labels":false,"title":null,"grid":true}},
    "detail":{"field":"i","type":"nominal"},
    "order":{"field":"d","type":"quantitative"}}},
  {"data":{"name":"pb_g"},"mark":{"type":"line","color":"#a0a0a0","strokeWidth":1.1,"clip":true},
   "encoding":{
    "x":{"field":"m","type":"quantitative","scale":{"domain":[0,12.13],"nice":false,"zero":false},
     "axis":{"orient":"top","values":[0,1,2,3,4,5,6,7,8,9,10,11,12],"labels":false,"title":null,"grid":false}},
    "y":{"field":"d","type":"quantitative","scale":{"domain":[-50,1150],"reverse":true,"nice":false,"zero":false},
     "axis":{"orient":"right","values":[0,200,400,600,800,1000],"labels":false,"title":null,"grid":false}},
    "detail":{"field":"i","type":"nominal"},
    "order":{"field":"d","type":"quantitative"}}},
  {"data":{"name":"bj"},"mark":{"type":"line","color":"#000000","strokeWidth":1.1,"clip":true},
   "encoding":{
    "x":{"field":"m","type":"quantitative","scale":{"domain":[0,12.13],"nice":false,"zero":false},"axis":null},
    "y":{"field":"d","type":"quantitative","scale":{"domain":[-50,1150],"reverse":true,"nice":false,"zero":false},"axis":null},
    "detail":{"field":"i","type":"nominal"},
    "order":{"field":"d","type":"quantitative"}}},
  {"data":{"name":"mb"},"mark":{"type":"point","filled":false,"strokeWidth":3.5,"opacity":1},
   "encoding":{
    "x":{"field":"m","type":"quantitative","scale":{"domain":[0,12.13],"nice":false,"zero":false},"axis":null},
    "y":{"field":"d","type":"quantitative","scale":{"domain":[-50,1150],"reverse":true,"nice":false,"zero":false},"axis":null},
    "shape":{"field":"s","type":"nominal","scale":{"domain":["x","+"],"range":["M-1,-1L1,1M-1,1L1,-1","M-1,0L1,0M0,-1L0,1"]},"legend":null},
    "size":{"field":"s","type":"ordinal","scale":{"domain":["x","+"],"range":[169,400]},"legend":null},
    "color":{"field":"c","type":"nominal","scale":{"domain":["top","mid","deep"],"range":["#e7298a","#fb9a99","#e31a1c"]},"legend":null}}},
  {"data":{"values":[{}]},"mark":{"type":"text","text":"b)","align":"right","baseline":"alphabetic"},
   "encoding":{
    "x":{"datum":11.77,"type":"quantitative","scale":{"domain":[0,12.13],"nice":false,"zero":false},"axis":null},
    "y":{"datum":1106,"type":"quantitative","scale":{"domain":[-50,1150],"reverse":true,"nice":false,"zero":false},"axis":null}}}
 ]}
]
}
